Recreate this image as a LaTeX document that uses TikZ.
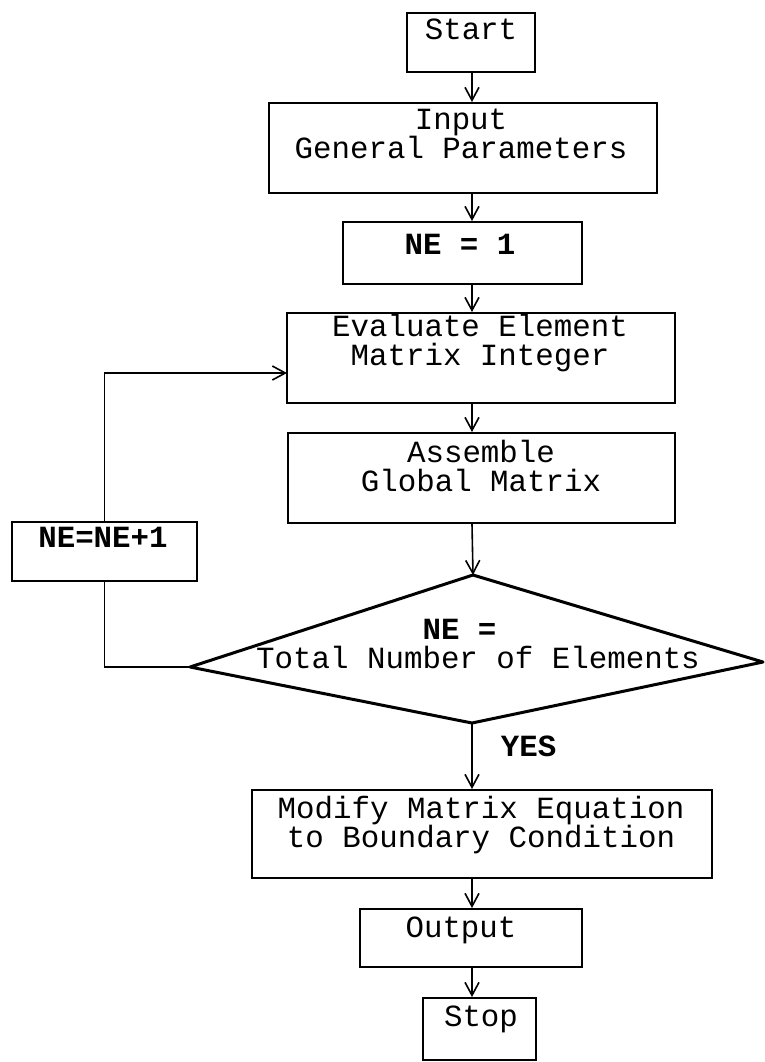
\documentclass[tikz,border=0pt]{standalone}
\usepackage{fontspec}
\setmonofont{Liberation Mono}
\usetikzlibrary{arrows.meta, positioning}

\begin{document}
\begin{tikzpicture}[
        x=0.5pt, y=-0.5pt,
        box/.style={rectangle, draw, line width=1pt, inner sep=0pt},
        txt/.style={inner sep=0pt, align=center, font=\ttfamily\fontsize{15.4}{14.5}\selectfont},
        btxt/.style={txt, font=\ttfamily\bfseries\fontsize{15.4}{14.5}\selectfont},
        arrow/.style={-{Straight Barb[length=6.5pt, width=7pt]}, line width=0.8pt},
        line/.style={line width=0.8pt}
    ]
        \useasboundingbox (0,0) rectangle (765,1062);
        \coordinate (axis) at (472,0);

        \node[box, minimum width=64pt, minimum height=29.5pt] (start) at (471,42.5) {};
        \node[txt] (starttext) at (471,29) {Start};
        \node[box, minimum width=194pt, minimum height=45pt] (input) at (463,148) {};
        \node[txt] (inputtext) at (461,134) {Input\\General Parameters};
        \node[box, minimum width=119.5pt, minimum height=31pt] (ne) at (462.5,253) {};
        \node[btxt] (netext) at (460,244) {NE = 1};
        \node[box, minimum width=194pt, minimum height=45pt] (evaluate) at (481,358) {};
        \node[txt] (evaluatetext) at (480,343) {Evaluate Element\\Matrix Integer};
        \node[box, minimum width=193.5pt, minimum height=45pt] (assemble) at (481.5,478) {};
        \node[txt] (assembletext) at (481,466) {Assemble\\Global Matrix};

        \coordinate (ctop) at (473,575);
        \coordinate (cleft) at (190,667);
        \coordinate (cright) at (763,662);
        \coordinate (cbottom) at (472,723);
        \draw[line width=1.5pt, line join=round] (ctop) -- (cright) -- (cbottom) -- (cleft) -- cycle;
        \node[txt] (check) at (478,644) {\textbf{NE =}\hspace*{1.2em}\\Total Number of Elements};

        \node[box, minimum width=230pt, minimum height=44pt] (modify) at (482,834) {};
        \node[txt] (modifytext) at (481,825) {Modify Matrix Equation\\to Boundary Condition};
        \node[box, minimum width=111pt, minimum height=29pt] (output) at (471,938) {};
        \node[txt] (outputtext) at (461,930) {Output};
        \node[box, minimum width=56.5pt, minimum height=31pt] (stop) at (479.5,1029) {};
        \node[txt] (stoptext) at (481,1019) {Stop};

        \node[box, minimum width=92.5pt, minimum height=29.5pt] (incr) at (104.5,551.5) {};
        \node[btxt] (incrtext) at (103,537) {NE=NE+1};
        \coordinate (loopin) at (287,373);

        \draw[arrow] (start.south -| axis) -- (input.north -| axis);
        \draw[arrow] (input.south -| axis) -- (ne.north -| axis);
        \draw[arrow] (ne.south -| axis) -- (evaluate.north -| axis);
        \draw[arrow] (evaluate.south -| axis) -- (assemble.north -| axis);
        \draw[arrow] (assemble.south -| axis) -- (ctop);
        \draw[arrow] (cbottom) -- (modify.north -| axis) node[btxt, pos=0.36, right=14pt] (yes) {YES};
        \draw[arrow] (modify.south -| axis) -- (output.north -| axis);
        \draw[arrow] (output.south -| axis) -- (stop.north -| axis);

        \draw[line] (cleft) -- (cleft -| incr) -- (incr.south);
        \draw[arrow] (incr.north) -- (incr.north |- loopin) -- (loopin);
    \end{tikzpicture}
\end{document}
